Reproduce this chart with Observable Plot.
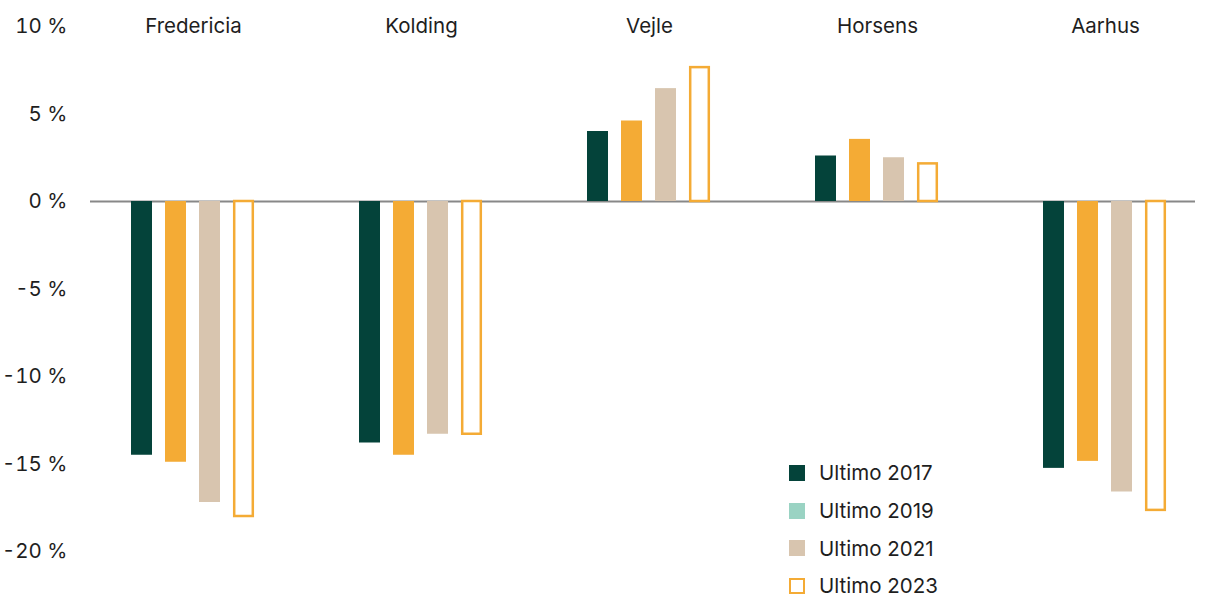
<!DOCTYPE html>
<html>
<head>
<meta charset="utf-8">
<script src="https://cdn.jsdelivr.net/npm/d3@7"></script>
<script src="https://cdn.jsdelivr.net/npm/@observablehq/plot@0.6"></script>
<style>
  html, body { margin: 0; padding: 0; background: #fff; }
  #wrap { position: relative; width: 1210px; height: 596px; font-family: Inter, "Noto Sans", sans-serif; color: #1e1e1e; }
  #legend { position: absolute; left: 789px; top: 454px; font-size: 20.5px; }
  .item { display: flex; align-items: center; height: 37.7px; }
  .sw { width: 16px; height: 16px; box-sizing: border-box; margin-right: 14px; }
</style>
</head>
<body>
<div id="wrap"><div id="legend"></div></div>
<script>
const cities = ["Fredericia", "Kolding", "Vejle", "Horsens", "Aarhus"];
const series = ["Ultimo 2017", "Ultimo 2019", "Ultimo 2021", "Ultimo 2023"];
const v2017 = [-14.5, -13.8, 4.0, 2.6, -15.25];
const v2019 = [-14.9, -14.5, 4.6, 3.55, -14.85];
const v2021 = [-17.2, -13.3, 6.45, 2.5, -16.6];
const v2023 = [-18.0, -13.3, 7.65, 2.15, -17.65];
const yTicks = [10, 5, 0, -5, -10, -15, -20];

const barColors = ["#04433A", "#F4AB35", "#D8C5AF", "none"];
const legendColors = ["#04433A", "#9AD3C3", "#D8C5AF", "none"];
const allVals = [v2017, v2019, v2021, v2023];

const data = [];
cities.forEach((c, i) => series.forEach((s, j) => data.push({city: c, series: s, value: allVals[j][i]})));
const filled = data.filter(d => d.series !== "Ultimo 2023");
const outlined = data.filter(d => d.series === "Ultimo 2023");

const first = cities.slice(0, 1), middle = cities.slice(1, -1), last = cities.slice(-1);
const ruleOpts = {fx: d => d, y: () => 0, stroke: "#888", strokeWidth: 2};

const chart = Plot.plot({
  width: 1210,
  height: 596,
  marginTop: 26,
  marginBottom: 45,
  marginLeft: 90,
  marginRight: 15,
  style: {fontFamily: "Inter, 'Noto Sans', sans-serif", fontSize: "20.5px", color: "#1e1e1e", background: "#fff"},
  fx: {domain: cities, range: [79, 1219], padding: 0, axis: null},
  x: {domain: series, paddingInner: 0.377, paddingOuter: 1.49, axis: null},
  y: {domain: [-20, 10], ticks: yTicks, tickFormat: d => `${d} %`, tickSize: 0, tickPadding: 12, label: null},
  color: {domain: series, range: barColors},
  marks: [
    Plot.ruleY(first, {...ruleOpts, insetLeft: 11}),
    Plot.ruleY(middle, ruleOpts),
    Plot.ruleY(last, {...ruleOpts, insetRight: 24}),
    Plot.barY(filled, {fx: "city", x: "series", y: "value", fill: "series"}),
    Plot.barY(outlined, {fx: "city", x: "series", y: "value", fill: "white", stroke: "#F4AB35", strokeWidth: 2.5, insetLeft: 1.2, insetRight: 1.2}),
    Plot.text(cities, {fx: d => d, text: d => d, frameAnchor: "top", lineAnchor: "middle", fontSize: 20.5, fill: "#1e1e1e"})
  ]
});
document.getElementById("wrap").prepend(chart);

const legend = document.getElementById("legend");
series.forEach((s, j) => {
  const item = document.createElement("div");
  item.className = "item";
  const sw = document.createElement("div");
  sw.className = "sw";
  if (legendColors[j] === "none") {
    sw.style.border = "2.5px solid #F4AB35";
    sw.style.background = "#fff";
  } else {
    sw.style.background = legendColors[j];
  }
  const t = document.createElement("span");
  t.textContent = s;
  item.append(sw, t);
  legend.append(item);
});
</script>
</body>
</html>
